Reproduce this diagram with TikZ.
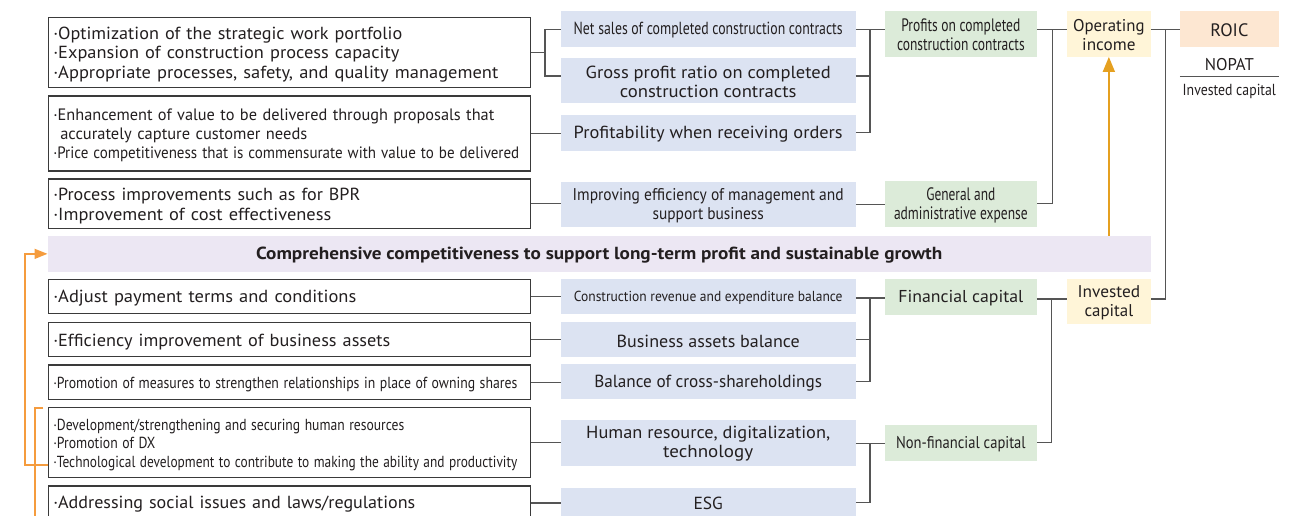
\documentclass[tikz,border=0pt]{standalone}
\usepackage{graphicx}
\usepackage{fontspec}
\setmainfont{PT Sans}
\usetikzlibrary{arrows.meta}

\definecolor{txt}{HTML}{231F20}
\definecolor{bluef}{HTML}{DCE3F2}
\definecolor{greenf}{HTML}{DCEBD9}
\definecolor{yellf}{HTML}{FFF5D8}
\definecolor{peachf}{HTML}{FDE7D2}
\definecolor{purpf}{HTML}{ECE7F3}
\definecolor{lnc}{HTML}{555555}
\definecolor{boxln}{HTML}{3A3A3A}
\definecolor{orgA}{HTML}{E5A020}
\definecolor{orgB}{HTML}{F59C3E}

\newcommand\fsz[2]{\fontsize{#1}{#2}\selectfont}
\newlength\dropamt
\setlength\dropamt{1.2pt}
% one line of text set to a given width (in pt), height kept,
% ink lowered by \dropamt without changing the line's extent
\newcommand\fw[2]{\raisebox{-\dropamt}[\height][\depth]{\resizebox{#1pt}{\height}{#2}}}

\tikzset{
  every node/.style={text=txt},
  lbox/.style={draw=boxln, line width=1.2pt, fill=white, anchor=west,
    inner xsep=5pt, inner ysep=0pt, text width=472.5pt, align=left,
    font={\fsz{17.5}{19.5}\setlength\dropamt{2.3pt}}},
  mbox/.style={fill=bluef, inner sep=0pt, minimum width=295pt, align=center,
    font={\fsz{17.5}{19}}},
  gbox/.style={fill=greenf, inner sep=0pt, minimum width=151.7pt, align=center,
    font={\fsz{18}{19}}},
  ybox/.style={fill=yellf, inner sep=0pt, minimum width=83.7pt, align=center,
    font={\fsz{17}{19}}},
  conn/.style={draw=lnc, line width=1.2pt},
  upline/.style={draw=orgA, line width=1.6pt, -{Triangle[length=15pt,width=12pt]}},
  loopline/.style={draw=orgB, line width=1.5pt},
}

\begin{document}
\begin{tikzpicture}[x=1pt,y=-1pt]
\useasboundingbox (0,0) rectangle (1300,515);
\clip (0,0) rectangle (1300,515);

% ---------- left column: measures ----------
\node[lbox, minimum height=70pt] (L1) at (47.7,52.3) {%
\fw{349}{·Optimization of the strategic work portfolio}\\
\fw{346}{·Expansion of construction process capacity}\\
\fw{445}{·Appropriate processes, safety, and quality management}};
\node[lbox, minimum height=75pt, font={\fsz{16.5}{18.8}\setlength\dropamt{2pt}}] (L2) at (47.7,133.5) {%
\fw{441}{·Enhancement of value to be delivered through proposals that}\\
\hspace*{7pt}\fw{247}{accurately capture customer needs}\\
\fw{466}{·Price competitiveness that is commensurate with value to be delivered}};
\node[lbox, minimum height=49.5pt] (L3) at (47.7,203.75) {%
\fw{307}{·Process improvements such as for BPR}\\
\fw{278}{·Improvement of cost effectiveness}};
\node[lbox, minimum height=34pt] (L4) at (47.7,296.3) {\fw{303}{·Adjust payment terms and conditions}};
\node[lbox, minimum height=34.4pt] (L5) at (47.7,339.5) {\fw{337}{·Efficiency improvement of business assets}};
\node[lbox, minimum height=34.3pt, font={\fsz{16}{19}\setlength\dropamt{2pt}}] (L6) at (47.7,382.15)
  {\fw{464}{·Promotion of measures to strengthen relationships in place of owning shares}};
\node[lbox, minimum height=70pt, font={\fsz{16}{18.6}\setlength\dropamt{2pt}}] (L7) at (47.7,442.7) {%
\fw{351}{·Development/strengthening and securing human resources}\\
\fw{102}{·Promotion of DX}\\
\fw{464}{·Technological development to contribute to making the ability and productivity}};
\node[lbox, minimum height=34pt, font={\fsz{17.5}{19.5}\setlength\dropamt{1.5pt}}] (L8) at (47.7,503) {\fw{362}{·Addressing social issues and laws/regulations}};

% ---------- middle column: indicators ----------
\node[mbox, minimum height=35.7pt] (M1) at (708.2,28.85) {\fw{269}{Net sales of completed construction contracts}};
\node[mbox, minimum height=45pt] (M2) at (708.2,80.8) {\fw{245}{Gross profit ratio on completed}\\\fw{176.7}{construction contracts}};
\node[mbox, minimum height=35.7pt] (M3) at (708.2,132.85) {\fw{269}{Profitability when receiving orders}};
\node[mbox, minimum height=45pt, font={\fsz{17}{19}}] (M4) at (708.2,204.2) {\fw{271}{Improving efficiency of management and}\\\fw{111.3}{support business}};
\node[mbox, minimum height=35pt, font={\fsz{14.5}{19}}] (M5) at (708.2,296.8) {\fw{268.7}{Construction revenue and expenditure balance}};
\node[mbox, minimum height=35pt] (M6) at (708.2,339.8) {\fw{183.3}{Business assets balance}};
\node[mbox, minimum height=35pt] (M7) at (708.2,381.8) {\fw{227.7}{Balance of cross-shareholdings}};
\node[mbox, minimum height=45.7pt] (M8) at (708.2,442.85) {\fw{244}{Human resource, digitalization,}\\\fw{90}{technology}};
\node[mbox, minimum height=35pt, font={\fsz{17.5}{19}\setlength\dropamt{-2pt}}] (M9) at (708.2,505.8) {\fw{29.3}{ESG}};

% ---------- green column ----------
\node[gbox, minimum height=45.7pt] (G1) at (960.85,33.85) {\fw{119}{Profits on completed}\\\fw{127.7}{construction contracts}};
\node[gbox, minimum height=45.7pt] (G2) at (960.85,203.85) {\fw{69}{General and}\\\fw{133.7}{administrative expense}};
\node[gbox, minimum height=35.2pt, font={\fsz{17.2}{19}}] (G3) at (960.85,296.9) {\fw{125}{Financial capital}};
\node[gbox, minimum height=35.7pt, font={\fsz{17}{19}}] (G4) at (960.85,442.85) {\fw{129.7}{Non-financial capital}};

% ---------- yellow column ----------
\node[ybox, minimum height=45.7pt] (O1) at (1108.85,33.85) {\fw{71.6}{Operating}\\\fw{53.3}{income}};
\node[ybox, minimum height=45pt] (I1) at (1108.85,301.8) {\fw{62.6}{Invested}\\\fw{48.7}{capital}};

% ---------- ROIC ----------
\node[fill=peachf, inner sep=0pt, minimum width=98.7pt, minimum height=35.7pt, font={\fsz{18}{19}}] (ROIC) at (1229.35,28.85) {\fw{38}{ROIC}};
\node[inner sep=0pt, font={\fsz{17}{19}}] (NOPAT) at (1229.35,63.3) {\fw{49}{NOPAT}};
\node[inner sep=0pt, font={\fsz{16}{19}}] (IC) at (1229.35,90.7) {\fw{93.3}{Invested capital}};
\coordinate (fbar) at (0,76.7);
\draw[draw=lnc, line width=1.5pt] (ROIC.west |- fbar) -- (ROIC.east |- fbar);

% ---------- central band ----------
\node[fill=purpf, inner sep=0pt, minimum width=1103pt, minimum height=35.7pt,
  font={\bfseries\fsz{17.5}{19}\setlength\dropamt{1.6pt}}] (P) at (599.2,253.85)
  {\fw{686}{Comprehensive competitiveness to support long-term profit and sustainable growth}};

% ---------- connectors: measures to indicators ----------
\coordinate (jA1) at (545,29.3);
\coordinate (jA2) at (545,76);
\draw[conn] (L1.east) -- (L1.east -| jA1);
\draw[conn] (M1.west |- jA1) -- (jA1) -- (jA2) -- (M2.west |- jA2);
\draw[conn] (L2.east) -- (L2.east -| M3.west);
\draw[conn] (L3.east) -- (L3.east -| M4.west);
\draw[conn] (L4.east) -- (L4.east -| M5.west);
\draw[conn] (L5.east) -- (L5.east -| M6.west);
\draw[conn] (L6.east) -- (L6.east -| M7.west);
\draw[conn] (L7.east) -- (L7.east -| M8.west);
\draw[conn] (L8.east) -- (L8.east -| M9.west);

% ---------- connectors: indicators to profit / capital ----------
\coordinate (jB1) at (870,29.3);
\coordinate (jB2) at (870,76);
\coordinate (jB3) at (870,132.85);
\draw[conn] (M1.east |- jB1) -- (G1.west |- jB1);
\draw[conn] (M2.east |- jB2) -- (jB2);
\draw[conn] (jB1) -- (jB3) -- (M3.east);
\draw[conn] (M4.east) -- (M4.east -| G2.west);

\coordinate (jF1) at (870,298);
\coordinate (jF2) at (870,339.5);
\coordinate (jF3) at (870,381.7);
\draw[conn] (M5.east |- jF1) -- (G3.west |- jF1);
\draw[conn] (M6.east |- jF2) -- (jF2);
\draw[conn] (jF1) -- (jF3) -- (M7.east |- jF3);

\coordinate (jG1) at (870,443.3);
\coordinate (jG2) at (870,502.3);
\draw[conn] (M8.east |- jG1) -- (G4.west |- jG1);
\draw[conn] (jG1) -- (jG2) -- (M9.east |- jG2);

% ---------- connectors: to operating income / invested capital / ROIC ----------
\coordinate (jD1) at (1052.3,29.3);
\coordinate (jD2) at (1052.3,203.3);
\draw[conn] (G1.east |- jD1) -- (O1.west |- jD1);
\draw[conn] (jD1) -- (jD2) -- (G2.east |- jD2);

\coordinate (jH1) at (1051.7,299);
\coordinate (jH2) at (1051.7,442.7);
\draw[conn] (G3.east |- jH1) -- (I1.west |- jH1);
\draw[conn] (jH1) -- (jH2) -- (G4.east |- jH2);

\coordinate (jE1) at (1165.7,29.3);
\coordinate (jE2) at (1165.7,299);
\draw[conn] (O1.east |- jE1) -- (ROIC.west |- jE1);
\draw[conn] (jE1) -- (jE2) -- (I1.east |- jE2);

% ---------- orange flows ----------
\draw[upline] (P.north -| O1) -- (O1.south);

\coordinate (oL) at (25,0);
\draw[loopline, -{Triangle[length=13pt,width=10pt]}]
  ([yshift=-22.3pt]L7.west) -| (oL |- P.west) -- (P.west);
\coordinate (oB1) at (43,408);
\coordinate (oB2) at (35,408);
\coordinate (oB3) at (35,520);
\draw[loopline] (oB1) -- (oB2) -- (oB3);
\end{tikzpicture}
\end{document}
